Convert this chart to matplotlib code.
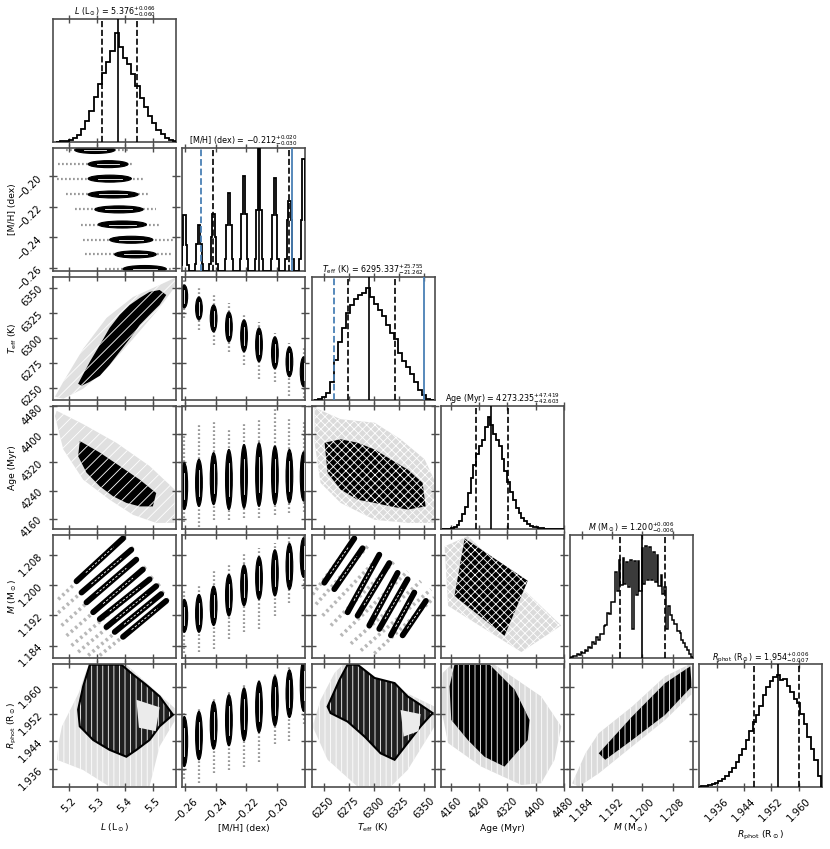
import numpy as np
import matplotlib
matplotlib.use('Agg')
import matplotlib.pyplot as plt
from matplotlib.patches import Polygon, Ellipse

plt.rcParams['font.family'] = ['DejaVu Sans']
plt.rcParams['mathtext.fontset'] = 'dejavusans'
plt.rcParams['hatch.linewidth'] = 0.6

# ---------------- parameters / labels ----------------
labels = [r'$L$ (L$_\odot$)', '[M/H] (dex)', r'$T_{\rm eff}$ (K)', 'Age (Myr)',
          r'$M$ (M$_\odot$)', r'$R_{\rm phot}$ (R$_\odot$)']
titles = [r'$L$ (L$_\odot$) = $5.376^{+0.066}_{-0.060}$',
          r'[M/H] (dex) = $-0.212^{+0.020}_{-0.030}$',
          r'$T_{\rm eff}$ (K) = $6295.337^{+25.755}_{-21.262}$',
          r'Age (Myr) = $4273.235^{+47.419}_{-42.603}$',
          r'$M$ (M$_\odot$) = $1.200^{+0.006}_{-0.006}$',
          r'$R_{\rm phot}$ (R$_\odot$) = $1.954^{+0.006}_{-0.007}$']
limits = [(5.143, 5.584), (-0.262, -0.1815), (6238.0, 6361.0), (4131.0, 4480.0),
          (1.1808, 1.2132), (1.9307, 1.9667)]
ticks = [[5.2, 5.3, 5.4, 5.5], [-0.26, -0.24, -0.22, -0.20],
         [6250, 6275, 6300, 6325, 6350], [4160, 4240, 4320, 4400, 4480],
         [1.184, 1.192, 1.200, 1.208], [1.936, 1.944, 1.952, 1.960]]
tick_labels = [['5.2', '5.3', '5.4', '5.5'], ['\u22120.26', '\u22120.24', '\u22120.22', '\u22120.20'],
               ['6250', '6275', '6300', '6325', '6350'], ['4160', '4240', '4320', '4400', '4480'],
               ['1.184', '1.192', '1.200', '1.208'], ['1.936', '1.944', '1.952', '1.960']]
q50 = [5.376, -0.212, 6295.337, 4273.235, 1.200, 1.954]
q16 = [5.316, -0.242, 6274.075, 4230.632, 1.194, 1.947]
q84 = [5.442, -0.192, 6321.092, 4320.654, 1.206, 1.960]
# reference (blue) lines: (dashed, solid)
blue_lines = {1: (-0.250, -0.190), 2: (6260.0, 6350.0)}
blue = '#4a80b5'

# ---------------- 1D histograms (relative heights) ----------------
L_cent = [5.160, 5.175, 5.190, 5.205, 5.220, 5.235, 5.250, 5.265, 5.280, 5.295, 5.310, 5.325,
          5.340, 5.355, 5.370, 5.385, 5.400, 5.415, 5.430, 5.445, 5.460, 5.475, 5.490, 5.505,
          5.520, 5.535, 5.550, 5.565, 5.580]
L_hist = [0.0, 0.005, 0.01, 0.02, 0.035, 0.06, 0.12, 0.19, 0.28, 0.40, 0.52, 0.62, 0.72, 0.82,
          0.98, 0.85, 0.75, 0.70, 0.61, 0.50, 0.39, 0.31, 0.23, 0.17, 0.11, 0.07, 0.04, 0.02, 0.01]
L_w = 0.015

MH_pos = [-0.2607, -0.2511, -0.2415, -0.2315, -0.2216, -0.2118, -0.2014, -0.1919, -0.1826]
MH_peak = [0.46, 0.375, 0.47, 0.635, 0.78, 1.0, 0.76, 0.57, 0.92]
MH_ped = [0.21, 0.225, 0.28, 0.38, 0.47, 0.50, 0.46, 0.42, 0.42]
MH_base = [0.05, 0.06, 0.06, 0.10, 0.10, 0.10, 0.10, 0.10, 0.10]

T_cent = [6242, 6246, 6250, 6254, 6258, 6262, 6266, 6270, 6274, 6278, 6282, 6286, 6290, 6294,
          6298, 6302, 6306, 6310, 6314, 6318, 6322, 6326, 6330, 6334, 6338, 6342, 6346, 6350,
          6354, 6358]
T_hist = [0.0, 0.01, 0.02, 0.06, 0.16, 0.36, 0.52, 0.64, 0.78, 0.85, 0.90, 0.94, 0.96, 1.0,
          0.92, 0.86, 0.80, 0.75, 0.67, 0.60, 0.54, 0.42, 0.35, 0.29, 0.23, 0.16, 0.09, 0.04,
          0.01, 0.0]
T_w = 4.0

A_cent = [4140, 4148, 4156, 4164, 4172, 4180, 4188, 4196, 4204, 4212, 4220, 4228, 4236, 4244,
          4252, 4260, 4268, 4276, 4284, 4292, 4300, 4308, 4316, 4324, 4332, 4340, 4348, 4356,
          4364, 4372, 4380, 4388, 4396, 4404, 4412, 4420, 4428, 4436, 4444, 4452, 4460, 4468, 4476]
A_hist = [0.0, 0.0, 0.002, 0.006, 0.015, 0.035, 0.07, 0.13, 0.20, 0.32, 0.46, 0.57, 0.67, 0.74,
          0.80, 0.91, 1.0, 0.93, 0.85, 0.80, 0.74, 0.63, 0.52, 0.42, 0.33, 0.26, 0.19, 0.14,
          0.10, 0.07, 0.045, 0.03, 0.02, 0.013, 0.008, 0.005, 0.003, 0.002, 0.001, 0.0, 0.0, 0.0, 0.0]
A_w = 8.0

M_pos = [1.181, 1.182, 1.183, 1.184, 1.185, 1.186, 1.187, 1.188, 1.189, 1.190, 1.191, 1.192,
         1.193, 1.194, 1.195, 1.196, 1.197, 1.1975, 1.198, 1.199, 1.200, 1.201, 1.202, 1.203,
         1.204, 1.205, 1.206, 1.2065, 1.207, 1.208, 1.209, 1.210, 1.211, 1.212, 1.213]
M_spike = [0.0, 0.015, 0.03, 0.05, 0.07, 0.10, 0.14, 0.19, 0.21, 0.28, 0.40, 0.50, 0.77, 0.88,
           0.89, 0.86, 0.88, 0.26, 0.87, 0.87, 0.98, 1.0, 0.99, 0.95, 0.92, 0.74, 0.63, 0.26,
           0.46, 0.34, 0.30, 0.22, 0.13, 0.07, 0.01]
M_base = [0.0, 0.005, 0.015, 0.025, 0.04, 0.06, 0.09, 0.12, 0.16, 0.21, 0.29, 0.39, 0.50, 0.60,
          0.65, 0.66, 0.63, 0.58, 0.56, 0.56, 0.60, 0.66, 0.70, 0.70, 0.68, 0.64, 0.57, 0.50,
          0.46, 0.38, 0.30, 0.24, 0.16, 0.095, 0.035, 0.0]

R_cent = [1.931, 1.932, 1.933, 1.934, 1.935, 1.936, 1.937, 1.938, 1.939, 1.940, 1.941, 1.942,
          1.943, 1.944, 1.945, 1.946, 1.947, 1.948, 1.949, 1.950, 1.951, 1.952, 1.953, 1.954,
          1.955, 1.956, 1.957, 1.958, 1.959, 1.960, 1.961, 1.962, 1.963, 1.964, 1.965, 1.966]
R_hist = [0.0, 0.003, 0.008, 0.015, 0.025, 0.035, 0.05, 0.07, 0.10, 0.13, 0.17, 0.22, 0.28,
          0.34, 0.42, 0.50, 0.58, 0.64, 0.72, 0.82, 0.89, 0.95, 0.98, 1.0, 0.96, 0.97, 0.90,
          0.85, 0.79, 0.75, 0.65, 0.56, 0.45, 0.34, 0.24, 0.10]
R_w = 0.001

# ---------------- [M/H] discrete blobs (core & tail extents) ----------------
LMH_core_lo = [5.393, 5.363, 5.345, 5.304, 5.292, 5.268, 5.268, 5.268, 5.220]
LMH_core_hi = [5.548, 5.512, 5.500, 5.477, 5.465, 5.447, 5.423, 5.411, 5.364]
LMH_tail_lo = [5.330, 5.256, 5.250, 5.244, 5.220, 5.190, 5.156, 5.161, 5.190]
LMH_tail_hi = [5.570, 5.571, 5.571, 5.530, 5.512, 5.482, 5.464, 5.429, 5.417]

MHT_core_lo = [6330, 6318, 6306, 6296, 6286, 6276, 6269, 6261, 6251]
MHT_core_hi = [6353, 6341, 6333, 6326, 6318, 6310, 6301, 6291, 6281]
MHT_tail_lo = [6320, 6308, 6293, 6286, 6273, 6259, 6256, 6242, 6240]
MHT_tail_hi = [6362, 6351, 6345, 6335, 6323, 6316, 6305, 6295, 6290]

MHA_core_lo = [4186, 4195, 4200, 4186, 4190, 4195, 4200, 4205, 4210]
MHA_core_hi = [4319, 4329, 4348, 4357, 4371, 4376, 4367, 4357, 4350]
MHA_tail_lo = [4150, 4137, 4157, 4157, 4162, 4162, 4171, 4176, 4180]
MHA_tail_hi = [4400, 4429, 4438, 4414, 4429, 4443, 4471, 4443, 4440]

MHM_core_lo = [1.1875, 1.1875, 1.1893, 1.1918, 1.1945, 1.1962, 1.1971, 1.1988, 1.2020]
MHM_core_hi = [1.1962, 1.1975, 1.1997, 1.2028, 1.2053, 1.2075, 1.2093, 1.2110, 1.2125]
MHM_tail_lo = [1.1820, 1.1822, 1.1831, 1.1857, 1.1875, 1.1884, 1.1918, 1.1953, 1.1990]
MHM_tail_hi = [1.1990, 1.1997, 1.2041, 1.2058, 1.2084, 1.2097, 1.2110, 1.2127, 1.2135]

MHR_core_lo = [1.9366, 1.9386, 1.9417, 1.9427, 1.9442, 1.9466, 1.9485, 1.9510, 1.9528]
MHR_core_hi = [1.9513, 1.9528, 1.9557, 1.9577, 1.9597, 1.9616, 1.9632, 1.9650, 1.9680]
MHR_tail_lo = [1.9330, 1.9318, 1.9346, 1.9356, 1.9366, 1.9380, 1.9431, 1.9440, 1.9490]
MHR_tail_hi = [1.9530, 1.9540, 1.9565, 1.9585, 1.9605, 1.9625, 1.9640, 1.9660, 1.9680]

# ---------------- model-track panels ----------------
TM_x0 = [6250.7, 6260.7, 6274.0, 6284.0, 6295.7, 6305.7, 6317.3, 6329.0]
TM_y0 = [1.2006, 1.1989, 1.1928, 1.1919, 1.1893, 1.1884, 1.1867, 1.1867]
TM_x1 = [6280.7, 6289.0, 6305.7, 6315.7, 6324.0, 6334.0, 6340.7, 6352.3]
TM_y1 = [1.2123, 1.2097, 1.2080, 1.2058, 1.2032, 1.2015, 1.1980, 1.1958]
TMf_x0 = [6239.0, 6242.3, 6249.0, 6257.3, 6267.3, 6277.3, 6287.3, 6300.7]
TMf_y0 = [1.1975, 1.1949, 1.1919, 1.1893, 1.1866, 1.1845, 1.1827, 1.1819]
TMf_x1 = [6282.3, 6294.0, 6309.0, 6320.7, 6334.0, 6347.3, 6357.3, 6360.7]
TMf_y1 = [1.2128, 1.2102, 1.2084, 1.2062, 1.2036, 1.2010, 1.1988, 1.1967]

LM_x0 = [5.2263, 5.2441, 5.2620, 5.2858, 5.3096, 5.3335, 5.3632, 5.3929]
LM_y0 = [1.2010, 1.1980, 1.1954, 1.1928, 1.1910, 1.1889, 1.1876, 1.1863]
LM_x1 = [5.3929, 5.4227, 5.4406, 5.4644, 5.4882, 5.5120, 5.5299, 5.5477]
LM_y1 = [1.2123, 1.2093, 1.2067, 1.2041, 1.2015, 1.1997, 1.1976, 1.1958]
LMf_x0 = [5.1608, 5.1608, 5.1727, 5.1906, 5.2084, 5.2322, 5.2680, 5.3096]
LMf_y0 = [1.1962, 1.1927, 1.1893, 1.1866, 1.1840, 1.1823, 1.1814, 1.1814]
LMf_x1 = [5.400, 5.430, 5.450, 5.475, 5.500, 5.525, 5.540, 5.560]
LMf_y1 = [1.2128, 1.2100, 1.2075, 1.2048, 1.2022, 1.2003, 1.1983, 1.1965]

# ---------------- density regions (outer faint / dense core) ----------------
LT_outer = [(5.149, 6241), (5.179, 6256), (5.250, 6289), (5.334, 6320), (5.429, 6341), (5.524, 6353),
            (5.578, 6360), (5.584, 6353), (5.524, 6330), (5.429, 6299), (5.334, 6269), (5.250, 6249),
            (5.179, 6239)]
LT_core = [(5.232, 6254), (5.274, 6276), (5.310, 6293), (5.345, 6310), (5.381, 6323), (5.417, 6333),
           (5.453, 6340), (5.488, 6346), (5.524, 6348), (5.548, 6343), (5.524, 6333), (5.488, 6323),
           (5.453, 6313), (5.417, 6299), (5.381, 6286), (5.345, 6273), (5.310, 6262), (5.274, 6256),
           (5.244, 6252)]
LA_outer = [(5.149, 4452), (5.155, 4467), (5.250, 4429), (5.369, 4376), (5.488, 4310), (5.578, 4243),
            (5.578, 4148), (5.512, 4148), (5.429, 4171), (5.345, 4214), (5.250, 4271), (5.179, 4357)]
LA_core = [(5.238, 4381), (5.310, 4348), (5.381, 4310), (5.453, 4271), (5.512, 4233), (5.506, 4214),
           (5.500, 4195), (5.453, 4195), (5.405, 4205), (5.357, 4224), (5.310, 4252), (5.262, 4291),
           (5.232, 4338)]
TA_outer = [(6241, 4476), (6267, 4443), (6301, 4433), (6327, 4386), (6351, 4329), (6362, 4262),
            (6361, 4148), (6334, 4148), (6301, 4157), (6267, 4205), (6247, 4262), (6241, 4376)]
TA_core = [(6251, 4376), (6267, 4386), (6284, 4376), (6301, 4357), (6317, 4329), (6334, 4300),
           (6349, 4262), (6352, 4195), (6334, 4186), (6317, 4195), (6301, 4205), (6284, 4214),
           (6267, 4243), (6254, 4290)]
AM_outer = [(4142, 1.2102), (4208, 1.2129), (4473, 1.1893), (4360, 1.1823), (4152, 1.1945)]
AM_core = [(4199, 1.2123), (4378, 1.2011), (4312, 1.1866), (4170, 1.1971)]
AR_outer = [(4137, 1.9641), (4161, 1.9665), (4284, 1.9665), (4416, 1.9572), (4473, 1.9484),
            (4454, 1.9386), (4416, 1.9317), (4360, 1.9312), (4246, 1.9366), (4152, 1.9435),
            (4133, 1.9533)]
AR_core = [(4170, 1.9665), (4270, 1.9665), (4341, 1.9592), (4383, 1.9503), (4378, 1.9444),
           (4312, 1.9366), (4255, 1.9395), (4208, 1.9444), (4161, 1.9503), (4156, 1.9601)]
MR_outer = [(1.1815, 1.9317), (1.1850, 1.9405), (1.1885, 1.9464), (1.1973, 1.9542), (1.2060, 1.9631),
            (1.2122, 1.9665), (1.2133, 1.9660), (1.2133, 1.9582), (1.2060, 1.9503), (1.1973, 1.9425),
            (1.1885, 1.9346), (1.1832, 1.9307)]
MR_core = [(1.1885, 1.9405), (1.1973, 1.9513), (1.2060, 1.9611), (1.2126, 1.9660), (1.2130, 1.9601),
           (1.2060, 1.9518), (1.1973, 1.9444), (1.1902, 1.9386)]
TR_outer = [(6239, 1.9484), (6247, 1.9562), (6261, 1.9641), (6271, 1.9670), (6361, 1.9542),
            (6361, 1.9484), (6334, 1.9356), (6317, 1.9307), (6284, 1.9307), (6254, 1.9386)]
TR_core = [(6254, 1.9542), (6266, 1.9621), (6274, 1.9665), (6284, 1.9665), (6301, 1.9626),
           (6321, 1.9611), (6334, 1.9572), (6347, 1.9547), (6359, 1.9523), (6347, 1.9484),
           (6334, 1.9435), (6321, 1.9386), (6307, 1.9405), (6291, 1.9454), (6274, 1.9498),
           (6257, 1.9523)]
TR_light = [(6327, 1.9532), (6347, 1.9520), (6345, 1.9470), (6330, 1.9454)]
LR_outer = [(5.162, 1.9435), (5.174, 1.9484), (5.234, 1.9582), (5.262, 1.9650), (5.405, 1.9665),
            (5.584, 1.9533), (5.584, 1.9508), (5.524, 1.9425), (5.488, 1.9307), (5.345, 1.9307),
            (5.250, 1.9356), (5.156, 1.9386)]
LR_core = [(5.274, 1.9665), (5.387, 1.9665), (5.429, 1.9636), (5.476, 1.9606), (5.524, 1.9572),
           (5.572, 1.9518), (5.524, 1.9484), (5.488, 1.9444), (5.441, 1.9415), (5.405, 1.9395),
           (5.345, 1.9415), (5.286, 1.9444), (5.238, 1.9484), (5.232, 1.9533), (5.250, 1.9601)]
LR_light = [(5.441, 1.9562), (5.524, 1.9540), (5.510, 1.9470), (5.450, 1.9480)]

# ---------------- figure / axes grid ----------------
W, H = 830, 849
fig = plt.figure(figsize=(W / 100, H / 100), dpi=100)
col_left = [53.3, 182.3, 311.6, 440.7, 569.5, 698.6]
row_top = [19.3, 148.3, 277.0, 406.2, 535.0, 664.0]
pw, ph = 123.0, 122.7
axes = {}
for i in range(6):
    for j in range(i + 1):
        axes[(i, j)] = fig.add_axes([col_left[j] / W, 1 - (row_top[i] + ph) / H, pw / W, ph / H])


def stairs_from_centers(ax, cent, vals, w):
    c = np.asarray(cent, float)
    edges = np.append(c - w / 2, c[-1] + w / 2)
    ax.stairs(vals, edges, color='k', lw=1.3, zorder=3)


def region(ax, pts, fc, hatch=None, ec=None, lw=0.0, z=1):
    p = Polygon(pts, closed=True, fc=fc, ec=('w' if hatch else 'none'), hatch=hatch, lw=0, zorder=z)
    ax.add_patch(p)
    if ec is not None:
        ax.add_patch(Polygon(pts, closed=True, fc='none', ec=ec, lw=lw, zorder=z + 0.5))


def blobs(ax, pos, clo, chi, tlo, thi, w, vertical=True):
    for p, a, b, c, d in zip(pos, clo, chi, tlo, thi):
        if vertical:
            ax.plot([p, p], [c, d], color='0.6', lw=1.6, ls=(0, (0.8, 1.0)), zorder=1)
            ax.add_patch(Ellipse((p, (a + b) / 2), w, b - a, fc='k', ec='k', lw=0.8, zorder=2))
            ax.plot([p, p], [a + 0.22 * (b - a), b - 0.22 * (b - a)], color='w', lw=0.6, zorder=3)
        else:
            ax.plot([c, d], [p, p], color='0.6', lw=1.6, ls=(0, (0.8, 1.0)), zorder=1)
            ax.add_patch(Ellipse(((a + b) / 2, p), b - a, w, fc='k', ec='k', lw=0.8, zorder=2))
            ax.plot([a + 0.22 * (b - a), b - 0.22 * (b - a)], [p, p], color='w', lw=0.6, zorder=3)


def tracks(ax, x0, y0, x1, y1, fx0, fy0, fx1, fy1):
    for a, b, c, d in zip(fx0, fy0, fx1, fy1):
        ax.plot([a, c], [b, d], color='0.72', lw=2.6, ls=(0, (0.7, 0.9)), zorder=1)
    for a, b, c, d in zip(x0, y0, x1, y1):
        ax.plot([a, c], [b, d], color='k', lw=4.2, solid_capstyle='round', zorder=2)
        ax.plot([a + 0.2 * (c - a), c - 0.2 * (c - a)], [b + 0.2 * (d - b), d - 0.2 * (d - b)],
                color='w', lw=0.6, ls=(0, (3, 2)), zorder=3)


# ---- diagonal histograms ----
stairs_from_centers(axes[(0, 0)], L_cent, L_hist, L_w)
# [M/H] spiky histogram
e = [-0.27]
v = []
for m, pk, pd, bs in zip(MH_pos, MH_peak, MH_ped, MH_base):
    seg = [m - 0.0028, m - 0.0017, m - 0.0008, m + 0.0008, m + 0.0017, m + 0.0028]
    v.append(0.0)
    e.append(seg[0])
    v += [bs, pd, pk, pd, bs]
    e += seg[1:]
v.append(0.0)
e.append(-0.17)
axes[(1, 1)].stairs(v, e, color='k', lw=1.3, zorder=3)
stairs_from_centers(axes[(2, 2)], T_cent, T_hist, T_w)
stairs_from_centers(axes[(3, 3)], A_cent, A_hist, A_w)
# mass histogram: narrow spikes on a smoother base
hw = 0.0002
me = [1.179]
for p in M_pos:
    me += [p - hw, p + hw]
me.append(1.215)
mv = [M_base[0]]
for k, s in enumerate(M_spike):
    mv += [s, M_base[k + 1]]
axes[(4, 4)].stairs(mv, me, color='k', lw=1.1, zorder=3)
stairs_from_centers(axes[(5, 5)], R_cent, R_hist, R_w)

for k in range(6):
    ax = axes[(k, k)]
    ax.axvline(q50[k], color='k', lw=1.2, zorder=4)
    ax.axvline(q16[k], color='k', lw=1.2, ls='--', zorder=4)
    ax.axvline(q84[k], color='k', lw=1.2, ls='--', zorder=4)
    if k in blue_lines:
        ax.axvline(blue_lines[k][0], color=blue, lw=1.3, ls='--', zorder=4)
        ax.axvline(blue_lines[k][1], color=blue, lw=1.3, zorder=4)
    ax.set_ylim(0, 1.005 if k == 1 else 1.1)

# ---- 2D panels ----
blobs(axes[(1, 0)], MH_pos, LMH_core_lo, LMH_core_hi, LMH_tail_lo, LMH_tail_hi, 0.0046, vertical=False)
blobs(axes[(2, 1)], MH_pos, MHT_core_lo, MHT_core_hi, MHT_tail_lo, MHT_tail_hi, 0.0044)
blobs(axes[(3, 1)], MH_pos, MHA_core_lo, MHA_core_hi, MHA_tail_lo, MHA_tail_hi, 0.0044)
blobs(axes[(4, 1)], MH_pos, MHM_core_lo, MHM_core_hi, MHM_tail_lo, MHM_tail_hi, 0.0044)
blobs(axes[(5, 1)], MH_pos, MHR_core_lo, MHR_core_hi, MHR_tail_lo, MHR_tail_hi, 0.0044)

region(axes[(2, 0)], LT_outer, '0.88', hatch='///')
region(axes[(2, 0)], LT_core, 'k', hatch='///', z=2)
region(axes[(3, 0)], LA_outer, '0.88', hatch='///')
region(axes[(3, 0)], LA_core, 'k', hatch='///', z=2)
region(axes[(3, 2)], TA_outer, '0.86', hatch='xxxx')
region(axes[(3, 2)], TA_core, 'k', hatch='xxxx', z=2)
region(axes[(4, 3)], AM_outer, '0.86', hatch='xxxx')
region(axes[(4, 3)], AM_core, 'k', hatch='xxxx', z=2)
tracks(axes[(4, 0)], LM_x0, LM_y0, LM_x1, LM_y1, LMf_x0, LMf_y0, LMf_x1, LMf_y1)
tracks(axes[(4, 2)], TM_x0, TM_y0, TM_x1, TM_y1, TMf_x0, TMf_y0, TMf_x1, TMf_y1)
region(axes[(5, 0)], LR_outer, '0.88', hatch='|||')
region(axes[(5, 0)], LR_core, '0.12', hatch='|||', ec='k', lw=1.5, z=2)
region(axes[(5, 0)], LR_light, '0.92', z=3)
region(axes[(5, 2)], TR_outer, '0.88', hatch='|||')
region(axes[(5, 2)], TR_core, '0.12', hatch='|||', ec='k', lw=1.5, z=2)
region(axes[(5, 2)], TR_light, '0.92', z=3)
region(axes[(5, 3)], AR_outer, '0.86', hatch='|||')
region(axes[(5, 3)], AR_core, 'k', hatch='|||', z=2)
region(axes[(5, 4)], MR_outer, '0.86', hatch='|||')
region(axes[(5, 4)], MR_core, 'k', hatch='|||', z=2)

# ---- styling ----
for (i, j), ax in axes.items():
    ax.set_xlim(limits[j])
    ax.set_xticks(ticks[j])
    if i != j:
        ax.set_ylim(limits[i])
        ax.set_yticks(ticks[i])
    else:
        ax.set_yticks([])
    ax.tick_params(direction='inout', length=6, width=1.0, color='0.3', top=True, right=True,
                   labelsize=7.2)
    for sp in ax.spines.values():
        sp.set_linewidth(1.2)
        sp.set_color('0.3')
    if i < 5:
        ax.set_xticklabels([])
    else:
        ax.set_xticklabels(tick_labels[j], rotation=45)
        ax.set_xlabel(labels[j], fontsize=6.6)
        ax.xaxis.set_label_coords(0.5, -0.40 if j == 5 else -0.337)
        ax.xaxis.label.set_va('center')
    if j > 0 or i == 0:
        ax.set_yticklabels([])
    else:
        ax.set_yticklabels(tick_labels[i], rotation=45)
        ax.set_ylabel(labels[i], fontsize=6.6)
        ax.yaxis.set_label_coords(-0.331, 0.5)
        ax.yaxis.label.set_va('center')
    if i == j:
        ax.set_title(titles[i], fontsize=5.8, pad=2.5)

fig.savefig('out.png', dpi=100)
